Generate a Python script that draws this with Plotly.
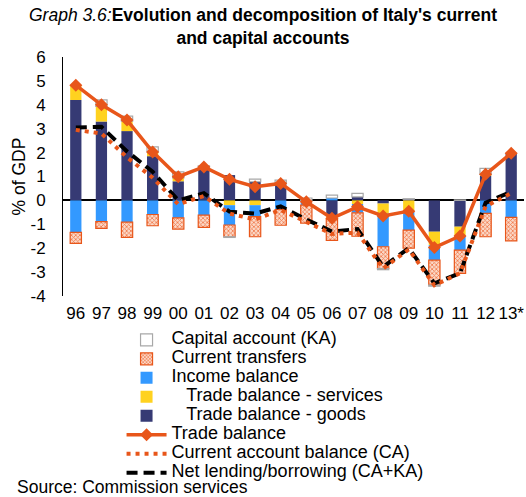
import plotly.graph_objects as go

years = ["96", "97", "98", "99", "00", "01", "02", "03", "04", "05", "06", "07",
         "08", "09", "10", "11", "12", "13*"]

goods = [4.2, 3.3, 2.9, 1.85, 0.8, 1.3, 1.06, 0.78, 0.75, -0.05, -0.65, 0.15,
         -0.13, 0.05, -1.31, -1.1, 1.05, 1.97]
services = [0.6, 0.63, 0.42, 0.18, 0.14, 0.1, -0.2, -0.2, 0.0, 0.0, -0.12, -0.15,
            -0.42, -0.47, -0.56, -0.39, 0.04, 0.0]
income = [-1.34, -0.89, -0.91, -0.59, -0.73, -0.62, -0.83, -0.48, -0.38, -0.15, 0.1, -0.37,
          -1.39, -0.77, -0.63, -0.59, -0.54, -0.71]
transfers = [-0.46, -0.28, -0.64, -0.47, -0.47, -0.51, -0.49, -0.84, -0.66, -0.75, -0.9, -0.98,
             -0.91, -0.76, -1.04, -0.97, -0.98, -0.98]
capital = [0.0, 0.28, 0.21, 0.21, 0.25, 0.05, -0.03, 0.11, 0.1, 0.1, 0.12, 0.14,
           -0.05, 0.02, -0.05, 0.02, 0.25, 0.0]
trade_balance = [4.82, 4.0, 3.36, 2.03, 0.99, 1.4, 0.88, 0.57, 0.71, -0.06, -0.75, -0.27,
                 -0.65, -0.45, -1.97, -1.49, 1.09, 1.97]
current_account = [2.95, 2.8, 1.8, 0.95, -0.16, 0.18, -0.55, -0.8, -0.4, -0.9, -1.4, -1.35,
                   -2.85, -2.05, -3.55, -3.05, -0.25, 0.3]
net_lending = [3.05, 3.08, 2.05, 1.2, 0.0, 0.3, -0.47, -0.55, -0.25, -0.8, -1.3, -1.2,
               -2.78, -2.0, -3.47, -3.05, -0.1, 0.36]

y_ticks = [-4, -3, -2, -1, 0, 1, 2, 3, 4, 5, 6]
y_ticktext = ["-4", "-3", "-2", "-1", "0", "1", "2", "3", "4", "5", "6"]

FONT = "Liberation Sans, Arial, sans-serif"
NAVY = "#363A74"
YELLOW = "#FFD21F"
BLUE = "#3399FF"
ORANGE = "#E8561A"


def lname(t):
    return '<span style="font-size:18px">' + t + '</span>'


fig = go.Figure()

fig.add_trace(go.Bar(x=years, y=goods, name=lname("\u00a0\u00a0 Trade balance - goods"),
                     marker=dict(color=NAVY, line=dict(width=0)), legendrank=5))
fig.add_trace(go.Bar(x=years, y=services, name=lname("\u00a0\u00a0 Trade balance - services"),
                     marker=dict(color=YELLOW, line=dict(width=0)), legendrank=4))
fig.add_trace(go.Bar(x=years, y=income, name=lname("Income balance"),
                     marker=dict(color=BLUE, line=dict(width=0)), legendrank=3))
fig.add_trace(go.Bar(x=years, y=transfers, name=lname("Current transfers"),
                     marker=dict(color="#FBD9C8", line=dict(color=ORANGE, width=1.2),
                                 pattern=dict(shape="x", fgcolor="#F0784A", bgcolor="#FBD9C8",
                                              size=3, solidity=0.45, fillmode="replace")),
                     legendrank=2))
fig.add_trace(go.Bar(x=years, y=capital, name=lname("Capital account (KA)"),
                     marker=dict(color="white", line=dict(color="#A8A8A8", width=1.2)),
                     legendrank=1))

fig.add_trace(go.Scatter(x=years, y=net_lending, mode="lines",
                         name=lname("Net lending/borrowing (CA+KA)"),
                         line=dict(color="black", width=4, dash="11px,6px"), legendrank=8))
fig.add_trace(go.Scatter(x=years, y=current_account, mode="lines",
                         name=lname("Current account balance (CA)"),
                         line=dict(color=ORANGE, width=4, dash="4px,5px"), legendrank=7))
fig.add_trace(go.Scatter(x=years, y=trade_balance, mode="lines+markers",
                         name=lname("Trade balance"),
                         line=dict(color=ORANGE, width=3.5),
                         marker=dict(symbol="diamond", size=10, color=ORANGE),
                         legendrank=6))

fig.update_layout(
    width=526, height=497,
    barmode="relative",
    bargap=0.56,
    plot_bgcolor="white",
    paper_bgcolor="white",
    font=dict(family=FONT, size=17, color="black"),
    margin=dict(l=63, r=2, t=57, b=201),
    title=dict(
        text="<i>Graph 3.6:</i><b>Evolution and decomposition of Italy's current<br>and capital accounts</b>",
        x=0.5, xref="container", xanchor="center",
        y=0.958, yref="container", yanchor="top",
        font=dict(family=FONT, size=17.5, color="black"),
    ),
    showlegend=True,
    legend=dict(
        x=0.127, xanchor="left", xref="paper",
        y=-0.1225, yanchor="top",
        traceorder="normal",
        font=dict(family=FONT, size=12, color="black"),
        bgcolor="rgba(0,0,0,0)",
        borderwidth=0,
        tracegroupgap=0,
        itemwidth=40,
    ),
    xaxis=dict(
        type="category",
        range=[-0.5, 17.5],
        showline=False,
        showgrid=False,
        ticks="",
        tickfont=dict(size=17),
        ticklabelstandoff=5,
    ),
    yaxis=dict(
        range=[-4, 6],
        tickvals=y_ticks,
        ticktext=y_ticktext,
        showline=True,
        linecolor="black",
        linewidth=1,
        showgrid=False,
        ticks="",
        zeroline=True,
        zerolinecolor="black",
        zerolinewidth=1.5,
        tickfont=dict(size=17),
        ticklabelstandoff=13,
        title=dict(text="% of GDP", font=dict(size=17.5), standoff=0),
    ),
    annotations=[
        dict(text="Source: Commission services", xref="paper", yref="paper",
             x=-0.104, y=-0.800, xanchor="left", yanchor="middle", showarrow=False,
             font=dict(family=FONT, size=17.5, color="black"))
    ],
)

fig.write_html(
    "out.html",
    config={"displayModeBar": False},
    post_script="document.body.style.margin='0';document.body.style.overflow='hidden';",
)
